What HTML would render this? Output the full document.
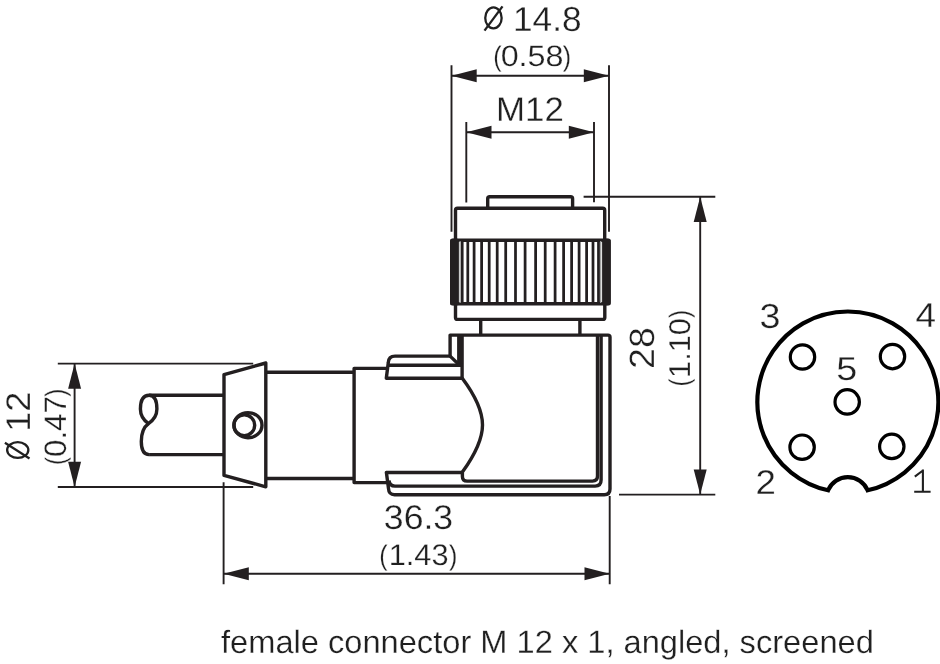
<!DOCTYPE html>
<html><head><meta charset="utf-8"><style>
html,body{margin:0;padding:0;background:#fff;width:940px;height:664px;overflow:hidden}
svg{display:block}
.tx{filter:grayscale(1)}
text{font-family:"Liberation Sans",sans-serif;font-size:100px;fill:#231f20;stroke:#fff;stroke-width:0.8px;text-rendering:geometricPrecision}
</style></head><body>
<svg width="940" height="664" viewBox="0 0 940 664">
<rect width="940" height="664" fill="#fff"/>
<!-- dimension lines -->
<g stroke="#231f20" stroke-width="1.9" fill="none">
<path d="M451.5,65.2V231.7 M609,65.2V231.7 M451.5,75.7H609"/>
<path d="M466.3,121.9V202.5 M594,121.9V202.2 M466.3,132.2H594"/>
<path d="M583.6,196.7H715.3 M619,494.6H715.3 M700.2,196.7V494.6"/>
<path d="M57.8,363.6H253.2 M57.8,487H253.2 M74.6,363.6V487"/>
<path d="M223.6,482.2V584.3 M609.7,496V584.3 M223.6,573.8H609.7"/>
</g>
<g fill="#231f20"><path d="M451.5,75.7 L476.7,82.2 L476.7,69.2Z"/><path d="M609.0,75.7 L583.8,69.2 L583.8,82.2Z"/><path d="M466.3,132.2 L491.5,138.7 L491.5,125.7Z"/><path d="M594.0,132.2 L568.8,125.7 L568.8,138.7Z"/><path d="M700.2,196.7 L693.7,221.9 L706.7,221.9Z"/><path d="M700.2,494.6 L706.7,469.4 L693.7,469.4Z"/><path d="M74.6,363.6 L68.1,388.8 L81.1,388.8Z"/><path d="M74.6,487.0 L81.1,461.8 L68.1,461.8Z"/><path d="M223.6,573.8 L248.8,580.3 L248.8,567.3Z"/><path d="M609.7,573.8 L584.5,567.3 L584.5,580.3Z"/></g>
<!-- connector head -->
<g stroke="#231f20" stroke-width="3.4" fill="none" stroke-linejoin="round">
<path d="M487.7,208.2V198.7Q487.7,196.7 489.7,196.7H570.6Q572.6,196.7 572.6,198.7V208.2"/>
<path d="M455.5,240V210.2Q455.5,208.2 457.5,208.2H602.7Q604.7,208.2 604.7,210.2V240"/>
<rect x="451.7" y="240.3" width="157.4" height="63.4" rx="1.5"/>
<path d="M455.5,303.7V317.4Q455.5,319.4 457.5,319.4H602.8Q604.8,319.4 604.8,317.4V303.7"/>
<path d="M480.7,319.4V334.9 M579.9,319.4V334.9"/>
</g>
<g fill="#231f20"><rect x="450.2" y="238.8" width="8.7" height="66.4" rx="1.5"/><rect x="602.1" y="238.8" width="8.5" height="66.4" rx="1.5"/></g>
<g stroke="#231f20" stroke-width="2.75"><line x1="525.1" y1="240" x2="525.1" y2="304"/><line x1="535.6" y1="240" x2="535.6" y2="304"/><line x1="515.5" y1="240" x2="515.5" y2="304"/><line x1="545.2" y1="240" x2="545.2" y2="304"/><line x1="505.7" y1="240" x2="505.7" y2="304"/><line x1="555.1" y1="240" x2="555.1" y2="304"/><line x1="497.2" y1="240" x2="497.2" y2="304"/><line x1="563.6" y1="240" x2="563.6" y2="304"/><line x1="489.2" y1="240" x2="489.2" y2="304"/><line x1="571.6" y1="240" x2="571.6" y2="304"/><line x1="481.6" y1="240" x2="481.6" y2="304"/><line x1="579.1" y1="240" x2="579.1" y2="304"/><line x1="474.1" y1="240" x2="474.1" y2="304"/><line x1="586.6" y1="240" x2="586.6" y2="304"/><line x1="467.8" y1="240" x2="467.8" y2="304"/><line x1="593.0" y1="240" x2="593.0" y2="304"/><line x1="462.2" y1="240" x2="462.2" y2="304"/><line x1="598.5" y1="240" x2="598.5" y2="304"/></g><g stroke="#a0a0a0" stroke-width="1.3"><line x1="460.1" y1="241" x2="460.1" y2="303"/><line x1="600.7" y1="241" x2="600.7" y2="303"/></g>
<!-- elbow body -->
<g stroke="#231f20" stroke-width="3.4" fill="none" stroke-linejoin="round">
<path d="M450.1,356.1V335.1H608Q610,335.1 610,337.1V488.9Q610,494.7 604.2,494.7H394.5Q388.8,494.7 388.5,488.5L386.4,472.5H462.4"/>
<path d="M458.8,335.1V364.3 M462.1,335.1V377.9"/>
<path d="M450.1,356.1L458.8,364.5"/>
<path d="M462.1,365.2H388.6"/>
<path d="M450.1,356.1H395Q388.6,356.1 388.3,362.5L386.3,378.2H462.1"/>
<path d="M462.1,378.1C474,394 482.5,410 482.5,425C482.5,440 474,456 462.4,472.1V476.5Q462.4,481.1 467.2,481.1H592.5Q597.5,481.1 597.5,476.1V335.1"/>
<path d="M389,480.5Q389.5,486.1 395,486.1H595.1Q601.1,486.1 601.1,480.1V335.1"/>
</g>
<!-- cable / sleeves -->
<g stroke="#231f20" stroke-width="3.4" fill="none" stroke-linejoin="round">
<path d="M386.5,368.4H354.1V482.6H387.5"/>
<path d="M354.1,372.2H265.8 M354.1,478.5H265.8"/>
<path d="M224,374.6L265.8,363V486.8L224,475.4Z"/>
<path d="M224,395.2H149.1 M224,454.6H149.1"/>
<path d="M149.1,395.2C143,395.2 140.4,401 140.4,409C140.4,416 144,420.5 148.5,423.6C153,420.5 156.9,416 156.9,409C156.9,401 155,395.2 149.1,395.2Z"/>
<path d="M148.5,423.6C143,427.5 141.3,433 141.3,441.6C141.3,449.5 144,454.6 149.1,454.6"/>
<circle cx="244.3" cy="425.2" r="10.4"/>
<ellipse cx="248" cy="425.2" rx="14" ry="12.6"/>
</g>
<!-- pin diagram -->
<g stroke="#000" fill="none">
<path stroke-width="4.2" d="M828.1,490.3 A90.5,90.5 0 1 1 867.6,490.3 A21.4,21.4 0 0 0 828.1,490.3Z"/>
<g stroke-width="3.2">
<circle cx="802.5" cy="357" r="12.2"/><circle cx="892.5" cy="356.6" r="12.2"/>
<circle cx="847.2" cy="401.9" r="12.2"/>
<circle cx="802.1" cy="447.2" r="12.2"/><circle cx="891.8" cy="446.4" r="12.2"/>
</g>
</g>
<!-- texts -->
<g class="tx">
<text transform="translate(512.91 31.09) scale(0.3530 0.3466)">14.8</text>
<g stroke="#231f20" stroke-width="2.3" fill="none"><ellipse cx="493.45" cy="17.9" rx="8.2" ry="10.45"/><path d="M484.5,30.6L502.5,6.4"/></g>
<text transform="translate(493.30 65.69) scale(0.2500 0.2820)">(</text>
<text transform="translate(500.63 65.92) scale(0.3228 0.2952)">0.58</text>
<text transform="translate(562.68 65.53) scale(0.2500 0.2825)">)</text>
<text transform="translate(496.00 120.79) scale(0.3488 0.3405)">M12</text>
<text transform="translate(654.11 368.98) rotate(-90) scale(0.3753 0.3513)">28</text>
<text transform="translate(689.23 386.60) rotate(-90) scale(0.2400 0.2829)">(</text>
<text transform="translate(689.80 377.92) rotate(-90) scale(0.3078 0.3015)">1.10</text>
<text transform="translate(689.25 317.90) rotate(-90) scale(0.2400 0.2809)">)</text>
<text transform="translate(29.92 431.76) rotate(-90) scale(0.3589 0.3422)">12</text>
<g stroke="#231f20" stroke-width="2.3" fill="none"><ellipse cx="17.75" cy="450.05" rx="10.6" ry="7.9"/><path d="M4.9,442.8L29.5,458.5"/></g>
<text transform="translate(65.21 464.98) rotate(-90) scale(0.2400 0.2804)">(</text>
<text transform="translate(65.91 456.99) rotate(-90) scale(0.3128 0.3103)">0.47</text>
<text transform="translate(64.68 396.80) rotate(-90) scale(0.2400 0.2821)">)</text>
<text transform="translate(383.87 529.26) scale(0.3561 0.3442)">36.3</text>
<text transform="translate(379.23 564.51) scale(0.2500 0.2822)">(</text>
<text transform="translate(388.65 564.84) scale(0.3077 0.2988)">1.43</text>
<text transform="translate(449.12 564.58) scale(0.2500 0.2825)">)</text>
<text transform="translate(759.54 328.16) scale(0.3782 0.3462)">3</text>
<text transform="translate(915.47 326.72) scale(0.3695 0.3470)">4</text>
<text transform="translate(836.37 379.55) scale(0.3773 0.3323)">5</text>
<text transform="translate(755.50 494.05) scale(0.3671 0.3424)">2</text>
<path d="M922.9,469.6V491.8M914.2,491.8H930.6M922.9,470.5L914.8,476.6" stroke="#231f20" stroke-width="2.1" fill="none"/>
<text transform="translate(221.02 652.80) scale(0.3262 0.3220)">female connector M 12 x 1, angled, screened</text>
</g>
</svg>
</body></html>
